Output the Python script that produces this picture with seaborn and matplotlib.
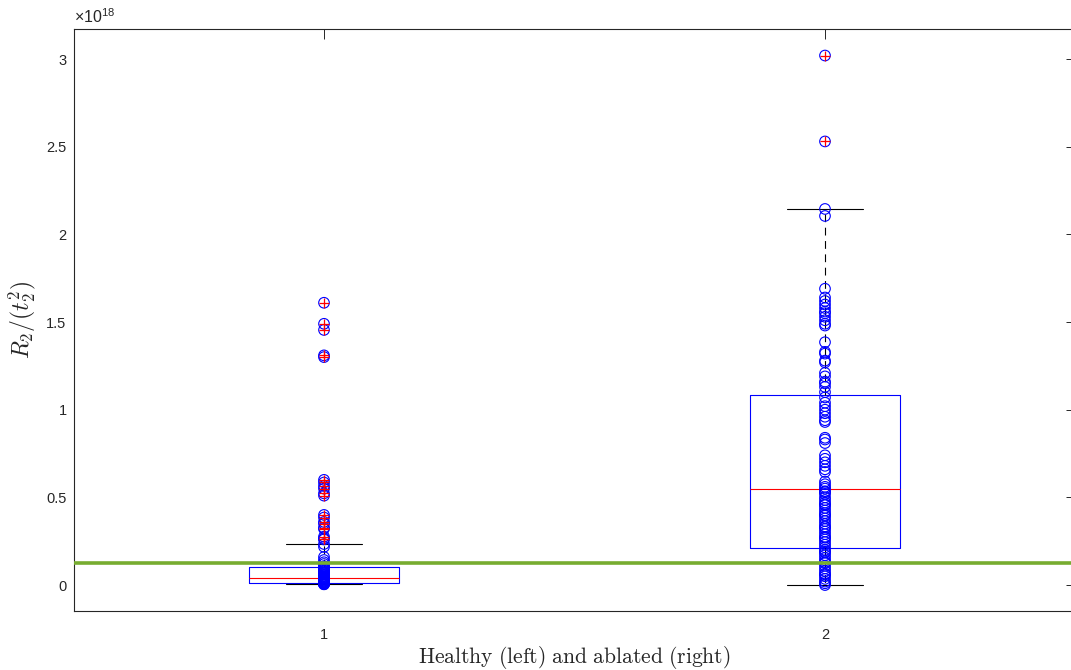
import numpy as np
import pandas as pd
import matplotlib
matplotlib.use("Agg")
import matplotlib.pyplot as plt
import seaborn as sns

SCALE = 1e18

# group positions and tick labels
groups = [1, 2]
group_labels = ["1", "2"]

# R2/(t2^2) samples, in units of 1e18
healthy = [1.61, 1.49, 1.455, 1.31, 1.30,
           0.60, 0.585, 0.565, 0.55, 0.523, 0.51,
           0.40, 0.385, 0.36, 0.35, 0.327, 0.32, 0.276, 0.265, 0.26,
           0.234, 0.218, 0.16, 0.143, 0.13, 0.12,
           0.108, 0.102, 0.097, 0.092, 0.088, 0.083, 0.078, 0.074, 0.070,
           0.066, 0.062, 0.058, 0.054, 0.050, 0.047, 0.044, 0.041, 0.038,
           0.035, 0.032, 0.029, 0.026, 0.023, 0.020, 0.018, 0.016, 0.014,
           0.012, 0.010, 0.009, 0.008, 0.007, 0.006, 0.005, 0.004]
ablated = [3.02, 2.53, 2.145, 2.105, 1.69, 1.64, 1.62, 1.60, 1.58, 1.56,
           1.55, 1.53, 1.51, 1.49, 1.48, 1.385, 1.33, 1.32, 1.28, 1.27,
           1.21, 1.19, 1.16, 1.15, 1.13, 1.10, 1.07, 1.04, 1.02, 1.00,
           0.98, 0.96, 0.94, 0.93, 0.84, 0.83, 0.81, 0.74, 0.72, 0.70,
           0.68, 0.66, 0.645, 0.59, 0.575, 0.56, 0.55, 0.535, 0.53, 0.52,
           0.50, 0.485, 0.47, 0.46, 0.455, 0.44, 0.425, 0.41, 0.40, 0.395,
           0.38, 0.365, 0.35, 0.335, 0.33, 0.32, 0.305, 0.29, 0.275, 0.27,
           0.26, 0.245, 0.23, 0.215, 0.20, 0.19, 0.185, 0.17, 0.155, 0.14,
           0.13, 0.125, 0.11, 0.095, 0.08, 0.065, 0.06, 0.05, 0.035, 0.02,
           0.01, 0.0]

# box summary per group (units of 1e18)
box_q1 = [0.0097, 0.213]
box_median = [0.042, 0.548]
box_q3 = [0.104, 1.084]
whisker_low = [0.004, 0.0]
whisker_high = [0.234, 2.145]
outliers_healthy = [v for v in healthy if v > whisker_high[0]]
outliers_ablated = [v for v in ablated if v > whisker_high[1]]

threshold = 0.125

sns.set_theme(style="white")
plt.rcParams["font.family"] = ["Liberation Sans", "DejaVu Sans"]
plt.rcParams["mathtext.fontset"] = "custom"
plt.rcParams["mathtext.rm"] = "Liberation Sans"
plt.rcParams["mathtext.it"] = "Liberation Sans:italic"

AX_COLOR = "#262626"

fig = plt.figure(figsize=(10.71, 6.70), dpi=100)
fig.patch.set_facecolor("white")
ax = fig.add_axes([73.5 / 1071, 1 - 611 / 670, 1002 / 1071, (611 - 28.7) / 670])
ax.set_facecolor("white")

stats = []
fliers = [outliers_healthy, outliers_ablated]
for i in range(len(groups)):
    stats.append(dict(q1=box_q1[i] * SCALE, med=box_median[i] * SCALE,
                      q3=box_q3[i] * SCALE, whislo=whisker_low[i] * SCALE,
                      whishi=whisker_high[i] * SCALE,
                      fliers=np.array(fliers[i]) * SCALE,
                      label=group_labels[i]))

ax.bxp(stats, positions=groups, widths=0.3, capwidths=0.15,
       boxprops=dict(color="blue", lw=0.8, zorder=2),
       medianprops=dict(color="red", lw=0.8, zorder=2),
       whiskerprops=dict(color="black", lw=0.8, ls=(0, (7, 5)), zorder=2),
       capprops=dict(color="black", lw=0.8, zorder=2),
       flierprops=dict(marker="+", markeredgecolor="red", markersize=6.5,
                       markeredgewidth=0.9, linestyle="none", zorder=4))

points = pd.DataFrame({
    "group": [groups[0]] * len(healthy) + [groups[1]] * len(ablated),
    "value": np.array(healthy + ablated) * SCALE,
})
sns.scatterplot(data=points, x="group", y="value", ax=ax, marker="o", s=58,
                facecolors="none", edgecolor="blue", linewidth=0.8,
                legend=False, zorder=3)

ax.axhline(threshold * SCALE, color="#77AC30", lw=2.6, zorder=5)

ax.set_xlim(0.5, 2.5)
ax.set_ylim(-0.148 * SCALE, 3.173 * SCALE)
yt = [0, 0.5, 1, 1.5, 2, 2.5, 3]
ax.set_yticks([v * SCALE for v in yt])
ax.set_yticklabels([f"{v:g}" for v in yt])
ax.set_xticks(groups)
ax.set_xticklabels(group_labels)

for s in ax.spines.values():
    s.set_visible(True)
    s.set_color(AX_COLOR)
    s.set_linewidth(0.8)
ax.tick_params(axis="both", direction="in", length=7, width=0.7,
               colors=AX_COLOR, labelsize=10.5, top=True, right=True,
               labeltop=False, labelright=False)
ax.tick_params(axis="x", pad=12)
ax.tick_params(axis="y", pad=5)

ax.text(0.0, 1.004, r"$\times10^{18}$", transform=ax.transAxes,
        ha="left", va="bottom", fontsize=11.5, color=AX_COLOR)

ax.set_xlabel(r"$\mathrm{Healthy\ (left)\ and\ ablated\ (right)}$",
              fontsize=15.5, color=AX_COLOR, math_fontfamily="cm", labelpad=2)
ax.set_ylabel(r"$R_2/(t_2^2)$", fontsize=17, color=AX_COLOR,
              math_fontfamily="cm", labelpad=6)

fig.savefig("out.png", dpi=100, facecolor="white")
